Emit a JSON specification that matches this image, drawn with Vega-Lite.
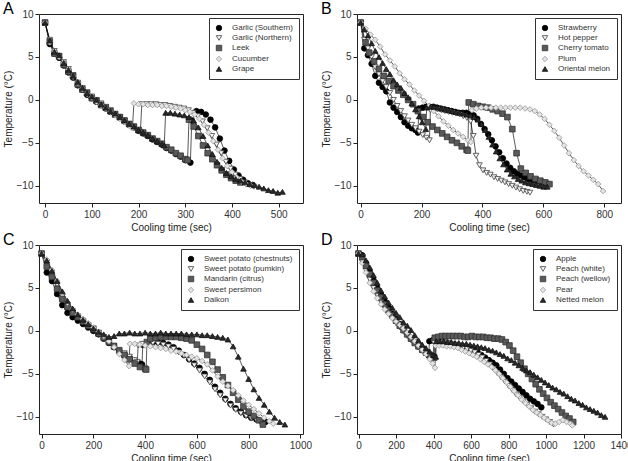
{
"$schema": "https://vega.github.io/schema/vega-lite/v6.json",
"padding": {"left": 2, "top": 0, "right": 0, "bottom": 0},
"config": {
  "font": "Liberation Sans",
  "view": {"stroke": "#222", "strokeWidth": 1},
  "axis": {"domain": false, "grid": false, "tickColor": "#222", "tickSize": 4, "labelFontSize": 10, "labelColor": "#333", "titleFontSize": 10, "titleFontWeight": "normal", "titleColor": "#222", "labelPadding": 2, "titlePadding": 3, "format": "d", "labelOverlap": false, "labelFlush": false},
  "legend": {"orient": "top-right", "offset": 4, "strokeColor": "#333", "fillColor": "white", "padding": 6, "labelFontSize": 8, "labelColor": "#333", "symbolSize": 30, "rowPadding": 1, "labelOffset": 9, "symbolStrokeWidth": 0.8},
  "title": {"fontSize": 16, "fontWeight": "normal", "anchor": "start", "frame": "bounds", "offset": -8, "color": "#000"}
},
"datasets": {
"A": [
{"s":"Garlic (Southern)","t":0,"v":9.0},{"s":"Garlic (Southern)","t":10,"v":6.5},{"s":"Garlic (Southern)","t":20,"v":5.4},{"s":"Garlic (Southern)","t":30,"v":4.9},{"s":"Garlic (Southern)","t":40,"v":4.0},{"s":"Garlic (Southern)","t":50,"v":3.2},{"s":"Garlic (Southern)","t":60,"v":2.6},{"s":"Garlic (Southern)","t":70,"v":1.7},{"s":"Garlic (Southern)","t":80,"v":1.2},{"s":"Garlic (Southern)","t":90,"v":0.6},{"s":"Garlic (Southern)","t":100,"v":0.2},{"s":"Garlic (Southern)","t":110,"v":-0.2},{"s":"Garlic (Southern)","t":120,"v":-0.6},{"s":"Garlic (Southern)","t":130,"v":-1.0},{"s":"Garlic (Southern)","t":140,"v":-1.4},{"s":"Garlic (Southern)","t":150,"v":-1.7},{"s":"Garlic (Southern)","t":160,"v":-2.1},{"s":"Garlic (Southern)","t":170,"v":-2.5},{"s":"Garlic (Southern)","t":180,"v":-2.9},{"s":"Garlic (Southern)","t":190,"v":-3.2},{"s":"Garlic (Southern)","t":200,"v":-3.6},{"s":"Garlic (Southern)","t":210,"v":-3.9},{"s":"Garlic (Southern)","t":220,"v":-4.2},{"s":"Garlic (Southern)","t":230,"v":-4.6},{"s":"Garlic (Southern)","t":240,"v":-4.9},{"s":"Garlic (Southern)","t":250,"v":-5.2},{"s":"Garlic (Southern)","t":260,"v":-5.6},{"s":"Garlic (Southern)","t":270,"v":-5.9},{"s":"Garlic (Southern)","t":280,"v":-6.3},{"s":"Garlic (Southern)","t":290,"v":-6.6},{"s":"Garlic (Southern)","t":300,"v":-7.0},{"s":"Garlic (Southern)","t":311,"v":-7.3},{"s":"Garlic (Southern)","t":314,"v":-2.4},{"s":"Garlic (Southern)","t":324,"v":-1.3},{"s":"Garlic (Southern)","t":334,"v":-1.4},{"s":"Garlic (Southern)","t":344,"v":-1.7},{"s":"Garlic (Southern)","t":354,"v":-2.3},{"s":"Garlic (Southern)","t":364,"v":-3.2},{"s":"Garlic (Southern)","t":374,"v":-4.5},{"s":"Garlic (Southern)","t":384,"v":-5.9},{"s":"Garlic (Southern)","t":394,"v":-7.1},{"s":"Garlic (Southern)","t":404,"v":-8.1},{"s":"Garlic (Southern)","t":414,"v":-8.8},{"s":"Garlic (Southern)","t":424,"v":-9.3},{"s":"Garlic (Southern)","t":434,"v":-9.7},{"s":"Garlic (Southern)","t":444,"v":-9.9},
{"s":"Garlic (Northern)","t":0,"v":9.0},{"s":"Garlic (Northern)","t":10,"v":7.0},{"s":"Garlic (Northern)","t":20,"v":5.7},{"s":"Garlic (Northern)","t":30,"v":5.1},{"s":"Garlic (Northern)","t":40,"v":4.4},{"s":"Garlic (Northern)","t":50,"v":3.6},{"s":"Garlic (Northern)","t":60,"v":2.9},{"s":"Garlic (Northern)","t":70,"v":2.0},{"s":"Garlic (Northern)","t":80,"v":1.4},{"s":"Garlic (Northern)","t":90,"v":0.9},{"s":"Garlic (Northern)","t":100,"v":0.4},{"s":"Garlic (Northern)","t":110,"v":0.0},{"s":"Garlic (Northern)","t":120,"v":-0.4},{"s":"Garlic (Northern)","t":130,"v":-0.8},{"s":"Garlic (Northern)","t":140,"v":-1.2},{"s":"Garlic (Northern)","t":150,"v":-1.6},{"s":"Garlic (Northern)","t":160,"v":-2.0},{"s":"Garlic (Northern)","t":170,"v":-2.4},{"s":"Garlic (Northern)","t":180,"v":-2.8},{"s":"Garlic (Northern)","t":190,"v":-3.2},{"s":"Garlic (Northern)","t":200,"v":-3.5},{"s":"Garlic (Northern)","t":204,"v":-3.7},{"s":"Garlic (Northern)","t":207,"v":-0.5},{"s":"Garlic (Northern)","t":217,"v":-0.5},{"s":"Garlic (Northern)","t":227,"v":-0.5},{"s":"Garlic (Northern)","t":237,"v":-0.5},{"s":"Garlic (Northern)","t":247,"v":-0.6},{"s":"Garlic (Northern)","t":257,"v":-0.6},{"s":"Garlic (Northern)","t":267,"v":-0.7},{"s":"Garlic (Northern)","t":277,"v":-0.8},{"s":"Garlic (Northern)","t":287,"v":-0.9},{"s":"Garlic (Northern)","t":297,"v":-1.0},{"s":"Garlic (Northern)","t":307,"v":-1.2},{"s":"Garlic (Northern)","t":317,"v":-1.5},{"s":"Garlic (Northern)","t":327,"v":-1.9},{"s":"Garlic (Northern)","t":337,"v":-2.5},{"s":"Garlic (Northern)","t":347,"v":-3.3},{"s":"Garlic (Northern)","t":357,"v":-4.2},{"s":"Garlic (Northern)","t":367,"v":-5.2},{"s":"Garlic (Northern)","t":377,"v":-6.2},{"s":"Garlic (Northern)","t":387,"v":-7.2},{"s":"Garlic (Northern)","t":397,"v":-8.0},{"s":"Garlic (Northern)","t":407,"v":-8.7},{"s":"Garlic (Northern)","t":417,"v":-9.2},{"s":"Garlic (Northern)","t":427,"v":-9.6},{"s":"Garlic (Northern)","t":437,"v":-9.9},{"s":"Garlic (Northern)","t":447,"v":-10.1},
{"s":"Leek","t":0,"v":9.0},{"s":"Leek","t":10,"v":6.8},{"s":"Leek","t":20,"v":5.4},{"s":"Leek","t":30,"v":5.1},{"s":"Leek","t":40,"v":4.1},{"s":"Leek","t":50,"v":3.3},{"s":"Leek","t":60,"v":2.8},{"s":"Leek","t":70,"v":1.8},{"s":"Leek","t":80,"v":1.2},{"s":"Leek","t":90,"v":0.8},{"s":"Leek","t":100,"v":0.2},{"s":"Leek","t":110,"v":-0.1},{"s":"Leek","t":120,"v":-0.6},{"s":"Leek","t":130,"v":-0.9},{"s":"Leek","t":140,"v":-1.3},{"s":"Leek","t":150,"v":-1.7},{"s":"Leek","t":160,"v":-2.0},{"s":"Leek","t":170,"v":-2.4},{"s":"Leek","t":180,"v":-2.8},{"s":"Leek","t":190,"v":-3.1},{"s":"Leek","t":200,"v":-3.5},{"s":"Leek","t":210,"v":-3.8},{"s":"Leek","t":220,"v":-4.1},{"s":"Leek","t":230,"v":-4.5},{"s":"Leek","t":240,"v":-4.8},{"s":"Leek","t":250,"v":-5.1},{"s":"Leek","t":260,"v":-5.5},{"s":"Leek","t":270,"v":-5.8},{"s":"Leek","t":280,"v":-6.2},{"s":"Leek","t":290,"v":-6.5},{"s":"Leek","t":300,"v":-6.9},{"s":"Leek","t":305,"v":-7.0},{"s":"Leek","t":308,"v":-2.3},{"s":"Leek","t":318,"v":-3.1},{"s":"Leek","t":328,"v":-4.2},{"s":"Leek","t":338,"v":-5.3},{"s":"Leek","t":348,"v":-6.2},{"s":"Leek","t":358,"v":-6.9},{"s":"Leek","t":368,"v":-7.6},{"s":"Leek","t":378,"v":-8.2},{"s":"Leek","t":388,"v":-8.7},{"s":"Leek","t":398,"v":-9.1},{"s":"Leek","t":408,"v":-9.4},{"s":"Leek","t":418,"v":-9.6},
{"s":"Cucumber","t":0,"v":9.0},{"s":"Cucumber","t":10,"v":6.7},{"s":"Cucumber","t":20,"v":5.6},{"s":"Cucumber","t":30,"v":5.0},{"s":"Cucumber","t":40,"v":4.3},{"s":"Cucumber","t":50,"v":3.5},{"s":"Cucumber","t":60,"v":2.7},{"s":"Cucumber","t":70,"v":2.0},{"s":"Cucumber","t":80,"v":1.3},{"s":"Cucumber","t":90,"v":0.7},{"s":"Cucumber","t":100,"v":0.3},{"s":"Cucumber","t":110,"v":-0.2},{"s":"Cucumber","t":120,"v":-0.6},{"s":"Cucumber","t":130,"v":-1.0},{"s":"Cucumber","t":140,"v":-1.4},{"s":"Cucumber","t":150,"v":-1.8},{"s":"Cucumber","t":160,"v":-2.2},{"s":"Cucumber","t":170,"v":-2.6},{"s":"Cucumber","t":180,"v":-3.0},{"s":"Cucumber","t":187,"v":-3.3},{"s":"Cucumber","t":190,"v":-0.4},{"s":"Cucumber","t":200,"v":-0.5},{"s":"Cucumber","t":210,"v":-0.5},{"s":"Cucumber","t":220,"v":-0.6},{"s":"Cucumber","t":230,"v":-0.6},{"s":"Cucumber","t":240,"v":-0.6},{"s":"Cucumber","t":250,"v":-0.7},{"s":"Cucumber","t":260,"v":-0.7},{"s":"Cucumber","t":270,"v":-0.8},{"s":"Cucumber","t":280,"v":-0.9},{"s":"Cucumber","t":290,"v":-1.0},{"s":"Cucumber","t":300,"v":-1.2},{"s":"Cucumber","t":310,"v":-1.4},{"s":"Cucumber","t":320,"v":-1.7},{"s":"Cucumber","t":330,"v":-2.2},{"s":"Cucumber","t":340,"v":-2.9},{"s":"Cucumber","t":350,"v":-3.8},{"s":"Cucumber","t":360,"v":-4.8},{"s":"Cucumber","t":370,"v":-5.8},{"s":"Cucumber","t":380,"v":-6.8},{"s":"Cucumber","t":390,"v":-7.7},{"s":"Cucumber","t":400,"v":-8.4},{"s":"Cucumber","t":410,"v":-9.0},{"s":"Cucumber","t":420,"v":-9.5},{"s":"Cucumber","t":430,"v":-9.8},{"s":"Cucumber","t":440,"v":-10.0},
{"s":"Grape","t":0,"v":9.0},{"s":"Grape","t":10,"v":6.9},{"s":"Grape","t":20,"v":5.6},{"s":"Grape","t":30,"v":5.2},{"s":"Grape","t":40,"v":4.3},{"s":"Grape","t":50,"v":3.5},{"s":"Grape","t":60,"v":2.8},{"s":"Grape","t":70,"v":2.1},{"s":"Grape","t":80,"v":1.4},{"s":"Grape","t":90,"v":0.8},{"s":"Grape","t":100,"v":0.4},{"s":"Grape","t":110,"v":0.0},{"s":"Grape","t":120,"v":-0.5},{"s":"Grape","t":130,"v":-0.9},{"s":"Grape","t":140,"v":-1.3},{"s":"Grape","t":150,"v":-1.6},{"s":"Grape","t":160,"v":-2.0},{"s":"Grape","t":170,"v":-2.4},{"s":"Grape","t":180,"v":-2.8},{"s":"Grape","t":190,"v":-3.1},{"s":"Grape","t":200,"v":-3.5},{"s":"Grape","t":210,"v":-3.8},{"s":"Grape","t":220,"v":-4.1},{"s":"Grape","t":230,"v":-4.5},{"s":"Grape","t":240,"v":-4.8},{"s":"Grape","t":250,"v":-5.1},{"s":"Grape","t":255,"v":-5.3},{"s":"Grape","t":258,"v":-1.5},{"s":"Grape","t":268,"v":-1.5},{"s":"Grape","t":278,"v":-1.6},{"s":"Grape","t":288,"v":-1.7},{"s":"Grape","t":298,"v":-1.8},{"s":"Grape","t":308,"v":-2.0},{"s":"Grape","t":318,"v":-2.4},{"s":"Grape","t":328,"v":-3.2},{"s":"Grape","t":338,"v":-4.2},{"s":"Grape","t":348,"v":-5.3},{"s":"Grape","t":358,"v":-6.3},{"s":"Grape","t":368,"v":-7.2},{"s":"Grape","t":378,"v":-7.9},{"s":"Grape","t":388,"v":-8.5},{"s":"Grape","t":398,"v":-8.9},{"s":"Grape","t":408,"v":-9.2},{"s":"Grape","t":418,"v":-9.4},{"s":"Grape","t":428,"v":-9.6},{"s":"Grape","t":438,"v":-9.8},{"s":"Grape","t":448,"v":-9.9},{"s":"Grape","t":458,"v":-10.1},{"s":"Grape","t":468,"v":-10.3},{"s":"Grape","t":478,"v":-10.5},{"s":"Grape","t":488,"v":-10.6},{"s":"Grape","t":498,"v":-10.8},{"s":"Grape","t":508,"v":-10.7}
],
"B": [
{"s":"Strawberry","t":0,"v":9.0},{"s":"Strawberry","t":12,"v":6.0},{"s":"Strawberry","t":24,"v":5.2},{"s":"Strawberry","t":36,"v":4.2},{"s":"Strawberry","t":48,"v":2.8},{"s":"Strawberry","t":60,"v":2.0},{"s":"Strawberry","t":72,"v":1.5},{"s":"Strawberry","t":84,"v":1.0},{"s":"Strawberry","t":96,"v":-0.3},{"s":"Strawberry","t":108,"v":-0.9},{"s":"Strawberry","t":120,"v":-1.4},{"s":"Strawberry","t":132,"v":-2.0},{"s":"Strawberry","t":144,"v":-2.6},{"s":"Strawberry","t":156,"v":-3.0},{"s":"Strawberry","t":168,"v":-3.3},{"s":"Strawberry","t":180,"v":-3.5},{"s":"Strawberry","t":188,"v":-3.8},{"s":"Strawberry","t":191,"v":-1.0},{"s":"Strawberry","t":203,"v":-0.9},{"s":"Strawberry","t":215,"v":-0.8},{"s":"Strawberry","t":227,"v":-0.8},{"s":"Strawberry","t":239,"v":-0.8},{"s":"Strawberry","t":251,"v":-0.9},{"s":"Strawberry","t":263,"v":-1.0},{"s":"Strawberry","t":275,"v":-1.1},{"s":"Strawberry","t":287,"v":-1.2},{"s":"Strawberry","t":299,"v":-1.3},{"s":"Strawberry","t":311,"v":-1.4},{"s":"Strawberry","t":323,"v":-1.5},{"s":"Strawberry","t":335,"v":-1.5},{"s":"Strawberry","t":347,"v":-1.5},{"s":"Strawberry","t":359,"v":-1.6},{"s":"Strawberry","t":371,"v":-1.8},{"s":"Strawberry","t":383,"v":-2.2},{"s":"Strawberry","t":395,"v":-2.8},{"s":"Strawberry","t":407,"v":-3.4},{"s":"Strawberry","t":419,"v":-4.0},{"s":"Strawberry","t":431,"v":-4.7},{"s":"Strawberry","t":443,"v":-5.4},{"s":"Strawberry","t":455,"v":-6.1},{"s":"Strawberry","t":467,"v":-6.8},{"s":"Strawberry","t":479,"v":-7.4},{"s":"Strawberry","t":491,"v":-7.9},{"s":"Strawberry","t":503,"v":-8.3},{"s":"Strawberry","t":515,"v":-8.6},{"s":"Strawberry","t":527,"v":-8.8},{"s":"Strawberry","t":539,"v":-9.0},{"s":"Strawberry","t":551,"v":-9.2},{"s":"Strawberry","t":563,"v":-9.3},{"s":"Strawberry","t":575,"v":-9.4},{"s":"Strawberry","t":587,"v":-9.5},{"s":"Strawberry","t":599,"v":-9.6},{"s":"Strawberry","t":611,"v":-9.7},
{"s":"Hot pepper","t":0,"v":9.0},{"s":"Hot pepper","t":12,"v":7.0},{"s":"Hot pepper","t":24,"v":6.0},{"s":"Hot pepper","t":36,"v":5.0},{"s":"Hot pepper","t":48,"v":3.8},{"s":"Hot pepper","t":60,"v":3.0},{"s":"Hot pepper","t":72,"v":2.2},{"s":"Hot pepper","t":84,"v":1.5},{"s":"Hot pepper","t":96,"v":0.8},{"s":"Hot pepper","t":108,"v":0.0},{"s":"Hot pepper","t":120,"v":-0.7},{"s":"Hot pepper","t":132,"v":-1.3},{"s":"Hot pepper","t":144,"v":-1.9},{"s":"Hot pepper","t":156,"v":-2.4},{"s":"Hot pepper","t":168,"v":-2.9},{"s":"Hot pepper","t":180,"v":-3.3},{"s":"Hot pepper","t":192,"v":-3.7},{"s":"Hot pepper","t":204,"v":-4.1},{"s":"Hot pepper","t":216,"v":-4.4},{"s":"Hot pepper","t":226,"v":-4.7},{"s":"Hot pepper","t":229,"v":-1.2},{"s":"Hot pepper","t":241,"v":-1.1},{"s":"Hot pepper","t":253,"v":-1.1},{"s":"Hot pepper","t":265,"v":-1.2},{"s":"Hot pepper","t":277,"v":-1.3},{"s":"Hot pepper","t":289,"v":-1.4},{"s":"Hot pepper","t":301,"v":-1.5},{"s":"Hot pepper","t":313,"v":-1.6},{"s":"Hot pepper","t":325,"v":-1.7},{"s":"Hot pepper","t":337,"v":-1.9},{"s":"Hot pepper","t":349,"v":-2.1},{"s":"Hot pepper","t":361,"v":-2.5},{"s":"Hot pepper","t":370,"v":-4.2},{"s":"Hot pepper","t":379,"v":-6.5},{"s":"Hot pepper","t":390,"v":-7.6},{"s":"Hot pepper","t":402,"v":-8.2},{"s":"Hot pepper","t":414,"v":-8.5},{"s":"Hot pepper","t":426,"v":-8.7},{"s":"Hot pepper","t":438,"v":-9.0},{"s":"Hot pepper","t":450,"v":-9.2},{"s":"Hot pepper","t":462,"v":-9.4},{"s":"Hot pepper","t":474,"v":-9.6},{"s":"Hot pepper","t":486,"v":-9.8},{"s":"Hot pepper","t":498,"v":-10.0},{"s":"Hot pepper","t":510,"v":-10.2},{"s":"Hot pepper","t":522,"v":-10.4},{"s":"Hot pepper","t":534,"v":-10.6},{"s":"Hot pepper","t":546,"v":-10.7},{"s":"Hot pepper","t":556,"v":-10.8},
{"s":"Cherry tomato","t":0,"v":9.0},{"s":"Cherry tomato","t":16,"v":6.7},{"s":"Cherry tomato","t":28,"v":5.5},{"s":"Cherry tomato","t":44,"v":4.5},{"s":"Cherry tomato","t":60,"v":3.6},{"s":"Cherry tomato","t":76,"v":2.8},{"s":"Cherry tomato","t":92,"v":2.2},{"s":"Cherry tomato","t":108,"v":1.6},{"s":"Cherry tomato","t":124,"v":1.1},{"s":"Cherry tomato","t":140,"v":0.6},{"s":"Cherry tomato","t":156,"v":0.0},{"s":"Cherry tomato","t":172,"v":-0.5},{"s":"Cherry tomato","t":188,"v":-1.3},{"s":"Cherry tomato","t":204,"v":-2.0},{"s":"Cherry tomato","t":220,"v":-2.6},{"s":"Cherry tomato","t":236,"v":-3.1},{"s":"Cherry tomato","t":252,"v":-3.5},{"s":"Cherry tomato","t":268,"v":-3.9},{"s":"Cherry tomato","t":284,"v":-4.3},{"s":"Cherry tomato","t":300,"v":-4.7},{"s":"Cherry tomato","t":316,"v":-5.0},{"s":"Cherry tomato","t":332,"v":-5.4},{"s":"Cherry tomato","t":348,"v":-5.8},{"s":"Cherry tomato","t":352,"v":-5.9},{"s":"Cherry tomato","t":355,"v":-0.3},{"s":"Cherry tomato","t":370,"v":-0.5},{"s":"Cherry tomato","t":386,"v":-0.7},{"s":"Cherry tomato","t":402,"v":-0.8},{"s":"Cherry tomato","t":418,"v":-0.9},{"s":"Cherry tomato","t":434,"v":-1.1},{"s":"Cherry tomato","t":450,"v":-1.3},{"s":"Cherry tomato","t":466,"v":-1.6},{"s":"Cherry tomato","t":482,"v":-2.0},{"s":"Cherry tomato","t":498,"v":-3.4},{"s":"Cherry tomato","t":512,"v":-6.2},{"s":"Cherry tomato","t":526,"v":-8.0},{"s":"Cherry tomato","t":542,"v":-8.5},{"s":"Cherry tomato","t":558,"v":-8.9},{"s":"Cherry tomato","t":574,"v":-9.2},{"s":"Cherry tomato","t":590,"v":-9.4},{"s":"Cherry tomato","t":606,"v":-9.6},{"s":"Cherry tomato","t":620,"v":-9.8},
{"s":"Plum","t":0,"v":9.0},{"s":"Plum","t":16,"v":8.3},{"s":"Plum","t":32,"v":7.6},{"s":"Plum","t":48,"v":7.0},{"s":"Plum","t":64,"v":6.2},{"s":"Plum","t":80,"v":5.3},{"s":"Plum","t":96,"v":4.6},{"s":"Plum","t":112,"v":3.9},{"s":"Plum","t":128,"v":3.1},{"s":"Plum","t":144,"v":2.4},{"s":"Plum","t":160,"v":1.8},{"s":"Plum","t":176,"v":1.1},{"s":"Plum","t":192,"v":0.5},{"s":"Plum","t":208,"v":-0.1},{"s":"Plum","t":224,"v":-0.7},{"s":"Plum","t":240,"v":-1.3},{"s":"Plum","t":256,"v":-1.9},{"s":"Plum","t":272,"v":-2.5},{"s":"Plum","t":288,"v":-3.0},{"s":"Plum","t":304,"v":-3.5},{"s":"Plum","t":320,"v":-3.9},{"s":"Plum","t":336,"v":-4.3},{"s":"Plum","t":352,"v":-4.7},{"s":"Plum","t":362,"v":-4.9},{"s":"Plum","t":365,"v":-1.2},{"s":"Plum","t":380,"v":-1.0},{"s":"Plum","t":396,"v":-0.9},{"s":"Plum","t":412,"v":-0.9},{"s":"Plum","t":428,"v":-0.9},{"s":"Plum","t":444,"v":-0.9},{"s":"Plum","t":460,"v":-0.9},{"s":"Plum","t":476,"v":-0.9},{"s":"Plum","t":492,"v":-0.9},{"s":"Plum","t":508,"v":-0.9},{"s":"Plum","t":524,"v":-0.9},{"s":"Plum","t":540,"v":-1.0},{"s":"Plum","t":556,"v":-1.1},{"s":"Plum","t":572,"v":-1.3},{"s":"Plum","t":588,"v":-1.7},{"s":"Plum","t":604,"v":-2.2},{"s":"Plum","t":620,"v":-2.9},{"s":"Plum","t":636,"v":-3.6},{"s":"Plum","t":652,"v":-4.4},{"s":"Plum","t":668,"v":-5.3},{"s":"Plum","t":684,"v":-6.2},{"s":"Plum","t":700,"v":-7.0},{"s":"Plum","t":716,"v":-7.7},{"s":"Plum","t":732,"v":-8.3},{"s":"Plum","t":748,"v":-8.8},{"s":"Plum","t":764,"v":-9.3},{"s":"Plum","t":780,"v":-9.8},{"s":"Plum","t":796,"v":-10.6},
{"s":"Oriental melon","t":0,"v":9.0},{"s":"Oriental melon","t":12,"v":8.2},{"s":"Oriental melon","t":24,"v":7.5},{"s":"Oriental melon","t":36,"v":6.6},{"s":"Oriental melon","t":48,"v":5.7},{"s":"Oriental melon","t":60,"v":5.0},{"s":"Oriental melon","t":72,"v":4.3},{"s":"Oriental melon","t":84,"v":3.6},{"s":"Oriental melon","t":96,"v":3.0},{"s":"Oriental melon","t":108,"v":2.3},{"s":"Oriental melon","t":120,"v":1.8},{"s":"Oriental melon","t":132,"v":1.4},{"s":"Oriental melon","t":144,"v":0.8},{"s":"Oriental melon","t":156,"v":0.3},{"s":"Oriental melon","t":168,"v":-0.4},{"s":"Oriental melon","t":180,"v":-1.1},{"s":"Oriental melon","t":192,"v":-1.9},{"s":"Oriental melon","t":202,"v":-2.6},{"s":"Oriental melon","t":214,"v":-3.4},{"s":"Oriental melon","t":217,"v":-0.9},{"s":"Oriental melon","t":229,"v":-0.8},{"s":"Oriental melon","t":241,"v":-0.8},{"s":"Oriental melon","t":253,"v":-0.9},{"s":"Oriental melon","t":265,"v":-1.0},{"s":"Oriental melon","t":277,"v":-1.1},{"s":"Oriental melon","t":289,"v":-1.2},{"s":"Oriental melon","t":301,"v":-1.3},{"s":"Oriental melon","t":313,"v":-1.4},{"s":"Oriental melon","t":325,"v":-1.5},{"s":"Oriental melon","t":337,"v":-1.6},{"s":"Oriental melon","t":349,"v":-1.7},{"s":"Oriental melon","t":361,"v":-1.8},{"s":"Oriental melon","t":373,"v":-2.0},{"s":"Oriental melon","t":385,"v":-2.3},{"s":"Oriental melon","t":397,"v":-2.8},{"s":"Oriental melon","t":409,"v":-3.5},{"s":"Oriental melon","t":421,"v":-4.3},{"s":"Oriental melon","t":433,"v":-5.2},{"s":"Oriental melon","t":445,"v":-6.0},{"s":"Oriental melon","t":457,"v":-6.8},{"s":"Oriental melon","t":469,"v":-7.5},{"s":"Oriental melon","t":481,"v":-8.1},{"s":"Oriental melon","t":493,"v":-8.6},{"s":"Oriental melon","t":505,"v":-8.9},{"s":"Oriental melon","t":517,"v":-9.2},{"s":"Oriental melon","t":529,"v":-9.4},{"s":"Oriental melon","t":541,"v":-9.6},{"s":"Oriental melon","t":553,"v":-9.7},{"s":"Oriental melon","t":565,"v":-9.8},{"s":"Oriental melon","t":577,"v":-9.9},{"s":"Oriental melon","t":589,"v":-10.0},{"s":"Oriental melon","t":601,"v":-10.1},{"s":"Oriental melon","t":613,"v":-10.1}
],
"C": [
{"s":"Sweet potato (chestnuts)","t":0,"v":9.0},{"s":"Sweet potato (chestnuts)","t":20,"v":6.8},{"s":"Sweet potato (chestnuts)","t":40,"v":5.8},{"s":"Sweet potato (chestnuts)","t":60,"v":4.3},{"s":"Sweet potato (chestnuts)","t":80,"v":3.0},{"s":"Sweet potato (chestnuts)","t":100,"v":2.1},{"s":"Sweet potato (chestnuts)","t":120,"v":1.6},{"s":"Sweet potato (chestnuts)","t":140,"v":1.2},{"s":"Sweet potato (chestnuts)","t":160,"v":0.8},{"s":"Sweet potato (chestnuts)","t":180,"v":0.4},{"s":"Sweet potato (chestnuts)","t":200,"v":0.0},{"s":"Sweet potato (chestnuts)","t":220,"v":-0.4},{"s":"Sweet potato (chestnuts)","t":240,"v":-0.9},{"s":"Sweet potato (chestnuts)","t":260,"v":-1.4},{"s":"Sweet potato (chestnuts)","t":280,"v":-1.9},{"s":"Sweet potato (chestnuts)","t":300,"v":-2.3},{"s":"Sweet potato (chestnuts)","t":320,"v":-2.7},{"s":"Sweet potato (chestnuts)","t":340,"v":-3.1},{"s":"Sweet potato (chestnuts)","t":360,"v":-3.5},{"s":"Sweet potato (chestnuts)","t":380,"v":-3.8},{"s":"Sweet potato (chestnuts)","t":388,"v":-3.9},{"s":"Sweet potato (chestnuts)","t":391,"v":-1.6},{"s":"Sweet potato (chestnuts)","t":410,"v":-1.4},{"s":"Sweet potato (chestnuts)","t":430,"v":-1.3},{"s":"Sweet potato (chestnuts)","t":450,"v":-1.3},{"s":"Sweet potato (chestnuts)","t":470,"v":-1.4},{"s":"Sweet potato (chestnuts)","t":490,"v":-1.6},{"s":"Sweet potato (chestnuts)","t":510,"v":-1.9},{"s":"Sweet potato (chestnuts)","t":530,"v":-2.3},{"s":"Sweet potato (chestnuts)","t":550,"v":-2.8},{"s":"Sweet potato (chestnuts)","t":570,"v":-3.3},{"s":"Sweet potato (chestnuts)","t":590,"v":-3.8},{"s":"Sweet potato (chestnuts)","t":610,"v":-4.3},{"s":"Sweet potato (chestnuts)","t":630,"v":-5.0},{"s":"Sweet potato (chestnuts)","t":650,"v":-5.7},{"s":"Sweet potato (chestnuts)","t":670,"v":-6.5},{"s":"Sweet potato (chestnuts)","t":690,"v":-7.2},{"s":"Sweet potato (chestnuts)","t":710,"v":-7.9},{"s":"Sweet potato (chestnuts)","t":730,"v":-8.5},{"s":"Sweet potato (chestnuts)","t":750,"v":-9.0},{"s":"Sweet potato (chestnuts)","t":770,"v":-9.4},{"s":"Sweet potato (chestnuts)","t":790,"v":-9.8},{"s":"Sweet potato (chestnuts)","t":810,"v":-10.1},{"s":"Sweet potato (chestnuts)","t":830,"v":-10.3},{"s":"Sweet potato (chestnuts)","t":850,"v":-10.5},{"s":"Sweet potato (chestnuts)","t":865,"v":-10.6},
{"s":"Sweet potato (pumkin)","t":0,"v":9.0},{"s":"Sweet potato (pumkin)","t":20,"v":8.0},{"s":"Sweet potato (pumkin)","t":40,"v":6.8},{"s":"Sweet potato (pumkin)","t":60,"v":5.4},{"s":"Sweet potato (pumkin)","t":80,"v":4.0},{"s":"Sweet potato (pumkin)","t":100,"v":3.0},{"s":"Sweet potato (pumkin)","t":120,"v":2.3},{"s":"Sweet potato (pumkin)","t":140,"v":1.7},{"s":"Sweet potato (pumkin)","t":160,"v":1.2},{"s":"Sweet potato (pumkin)","t":180,"v":0.7},{"s":"Sweet potato (pumkin)","t":200,"v":0.3},{"s":"Sweet potato (pumkin)","t":220,"v":-0.2},{"s":"Sweet potato (pumkin)","t":240,"v":-0.7},{"s":"Sweet potato (pumkin)","t":260,"v":-1.2},{"s":"Sweet potato (pumkin)","t":280,"v":-1.7},{"s":"Sweet potato (pumkin)","t":300,"v":-2.2},{"s":"Sweet potato (pumkin)","t":320,"v":-2.6},{"s":"Sweet potato (pumkin)","t":340,"v":-3.0},{"s":"Sweet potato (pumkin)","t":360,"v":-3.4},{"s":"Sweet potato (pumkin)","t":370,"v":-3.6},{"s":"Sweet potato (pumkin)","t":373,"v":-1.7},{"s":"Sweet potato (pumkin)","t":390,"v":-1.5},{"s":"Sweet potato (pumkin)","t":410,"v":-1.4},{"s":"Sweet potato (pumkin)","t":430,"v":-1.4},{"s":"Sweet potato (pumkin)","t":450,"v":-1.5},{"s":"Sweet potato (pumkin)","t":470,"v":-1.6},{"s":"Sweet potato (pumkin)","t":490,"v":-1.8},{"s":"Sweet potato (pumkin)","t":510,"v":-2.1},{"s":"Sweet potato (pumkin)","t":530,"v":-2.5},{"s":"Sweet potato (pumkin)","t":550,"v":-2.9},{"s":"Sweet potato (pumkin)","t":570,"v":-3.4},{"s":"Sweet potato (pumkin)","t":590,"v":-4.0},{"s":"Sweet potato (pumkin)","t":610,"v":-4.6},{"s":"Sweet potato (pumkin)","t":630,"v":-5.3},{"s":"Sweet potato (pumkin)","t":650,"v":-6.0},{"s":"Sweet potato (pumkin)","t":670,"v":-6.8},{"s":"Sweet potato (pumkin)","t":690,"v":-7.5},{"s":"Sweet potato (pumkin)","t":710,"v":-8.1},{"s":"Sweet potato (pumkin)","t":730,"v":-8.7},{"s":"Sweet potato (pumkin)","t":750,"v":-9.2},{"s":"Sweet potato (pumkin)","t":770,"v":-9.6},{"s":"Sweet potato (pumkin)","t":790,"v":-9.9},{"s":"Sweet potato (pumkin)","t":810,"v":-10.2},{"s":"Sweet potato (pumkin)","t":830,"v":-10.4},{"s":"Sweet potato (pumkin)","t":845,"v":-10.6},
{"s":"Mandarin (citrus)","t":0,"v":9.0},{"s":"Mandarin (citrus)","t":20,"v":7.5},{"s":"Mandarin (citrus)","t":40,"v":6.3},{"s":"Mandarin (citrus)","t":60,"v":4.9},{"s":"Mandarin (citrus)","t":80,"v":3.7},{"s":"Mandarin (citrus)","t":100,"v":2.8},{"s":"Mandarin (citrus)","t":120,"v":2.1},{"s":"Mandarin (citrus)","t":140,"v":1.6},{"s":"Mandarin (citrus)","t":160,"v":1.1},{"s":"Mandarin (citrus)","t":180,"v":0.6},{"s":"Mandarin (citrus)","t":200,"v":0.2},{"s":"Mandarin (citrus)","t":220,"v":-0.3},{"s":"Mandarin (citrus)","t":240,"v":-0.8},{"s":"Mandarin (citrus)","t":260,"v":-1.3},{"s":"Mandarin (citrus)","t":280,"v":-1.8},{"s":"Mandarin (citrus)","t":300,"v":-2.3},{"s":"Mandarin (citrus)","t":320,"v":-2.8},{"s":"Mandarin (citrus)","t":340,"v":-3.3},{"s":"Mandarin (citrus)","t":360,"v":-3.8},{"s":"Mandarin (citrus)","t":380,"v":-4.2},{"s":"Mandarin (citrus)","t":400,"v":-4.4},{"s":"Mandarin (citrus)","t":404,"v":-4.5},{"s":"Mandarin (citrus)","t":407,"v":-1.3},{"s":"Mandarin (citrus)","t":420,"v":-0.9},{"s":"Mandarin (citrus)","t":440,"v":-0.8},{"s":"Mandarin (citrus)","t":460,"v":-0.7},{"s":"Mandarin (citrus)","t":480,"v":-0.7},{"s":"Mandarin (citrus)","t":500,"v":-0.7},{"s":"Mandarin (citrus)","t":520,"v":-0.7},{"s":"Mandarin (citrus)","t":540,"v":-0.8},{"s":"Mandarin (citrus)","t":560,"v":-0.9},{"s":"Mandarin (citrus)","t":580,"v":-1.1},{"s":"Mandarin (citrus)","t":600,"v":-1.6},{"s":"Mandarin (citrus)","t":620,"v":-2.1},{"s":"Mandarin (citrus)","t":640,"v":-2.8},{"s":"Mandarin (citrus)","t":660,"v":-3.6},{"s":"Mandarin (citrus)","t":680,"v":-4.5},{"s":"Mandarin (citrus)","t":700,"v":-5.4},{"s":"Mandarin (citrus)","t":720,"v":-6.3},{"s":"Mandarin (citrus)","t":740,"v":-7.2},{"s":"Mandarin (citrus)","t":760,"v":-8.0},{"s":"Mandarin (citrus)","t":780,"v":-8.8},{"s":"Mandarin (citrus)","t":800,"v":-9.4},{"s":"Mandarin (citrus)","t":820,"v":-9.9},{"s":"Mandarin (citrus)","t":840,"v":-10.4},{"s":"Mandarin (citrus)","t":855,"v":-10.9},
{"s":"Sweet persimon","t":0,"v":9.0},{"s":"Sweet persimon","t":20,"v":8.3},{"s":"Sweet persimon","t":40,"v":7.1},{"s":"Sweet persimon","t":60,"v":5.8},{"s":"Sweet persimon","t":80,"v":4.4},{"s":"Sweet persimon","t":100,"v":3.3},{"s":"Sweet persimon","t":120,"v":2.5},{"s":"Sweet persimon","t":140,"v":1.9},{"s":"Sweet persimon","t":160,"v":1.4},{"s":"Sweet persimon","t":180,"v":0.9},{"s":"Sweet persimon","t":200,"v":0.4},{"s":"Sweet persimon","t":220,"v":-0.1},{"s":"Sweet persimon","t":240,"v":-0.6},{"s":"Sweet persimon","t":260,"v":-1.2},{"s":"Sweet persimon","t":280,"v":-1.9},{"s":"Sweet persimon","t":300,"v":-2.7},{"s":"Sweet persimon","t":320,"v":-3.4},{"s":"Sweet persimon","t":338,"v":-4.1},{"s":"Sweet persimon","t":341,"v":-1.5},{"s":"Sweet persimon","t":360,"v":-1.5},{"s":"Sweet persimon","t":380,"v":-1.6},{"s":"Sweet persimon","t":400,"v":-1.7},{"s":"Sweet persimon","t":420,"v":-1.8},{"s":"Sweet persimon","t":440,"v":-1.9},{"s":"Sweet persimon","t":460,"v":-2.0},{"s":"Sweet persimon","t":480,"v":-2.1},{"s":"Sweet persimon","t":500,"v":-2.3},{"s":"Sweet persimon","t":520,"v":-2.4},{"s":"Sweet persimon","t":540,"v":-2.6},{"s":"Sweet persimon","t":560,"v":-2.8},{"s":"Sweet persimon","t":580,"v":-3.0},{"s":"Sweet persimon","t":600,"v":-3.2},{"s":"Sweet persimon","t":620,"v":-3.5},{"s":"Sweet persimon","t":640,"v":-3.9},{"s":"Sweet persimon","t":660,"v":-4.6},{"s":"Sweet persimon","t":680,"v":-5.3},{"s":"Sweet persimon","t":700,"v":-5.9},{"s":"Sweet persimon","t":720,"v":-6.4},{"s":"Sweet persimon","t":740,"v":-6.9},{"s":"Sweet persimon","t":760,"v":-7.5},{"s":"Sweet persimon","t":780,"v":-8.1},{"s":"Sweet persimon","t":800,"v":-8.6},{"s":"Sweet persimon","t":820,"v":-9.1},{"s":"Sweet persimon","t":840,"v":-9.6},{"s":"Sweet persimon","t":860,"v":-10.1},{"s":"Sweet persimon","t":880,"v":-10.5},{"s":"Sweet persimon","t":895,"v":-10.8},
{"s":"Daikon","t":0,"v":9.0},{"s":"Daikon","t":20,"v":8.2},{"s":"Daikon","t":40,"v":7.0},{"s":"Daikon","t":60,"v":5.8},{"s":"Daikon","t":80,"v":4.6},{"s":"Daikon","t":100,"v":3.5},{"s":"Daikon","t":120,"v":2.6},{"s":"Daikon","t":140,"v":1.9},{"s":"Daikon","t":160,"v":1.3},{"s":"Daikon","t":180,"v":0.8},{"s":"Daikon","t":200,"v":0.3},{"s":"Daikon","t":220,"v":-0.1},{"s":"Daikon","t":240,"v":-0.4},{"s":"Daikon","t":260,"v":-0.7},{"s":"Daikon","t":280,"v":-0.6},{"s":"Daikon","t":300,"v":-0.3},{"s":"Daikon","t":320,"v":-0.3},{"s":"Daikon","t":340,"v":-0.2},{"s":"Daikon","t":360,"v":-0.3},{"s":"Daikon","t":380,"v":-0.3},{"s":"Daikon","t":400,"v":-0.2},{"s":"Daikon","t":420,"v":-0.3},{"s":"Daikon","t":440,"v":-0.3},{"s":"Daikon","t":460,"v":-0.2},{"s":"Daikon","t":480,"v":-0.3},{"s":"Daikon","t":500,"v":-0.3},{"s":"Daikon","t":520,"v":-0.3},{"s":"Daikon","t":540,"v":-0.3},{"s":"Daikon","t":560,"v":-0.4},{"s":"Daikon","t":580,"v":-0.4},{"s":"Daikon","t":600,"v":-0.4},{"s":"Daikon","t":620,"v":-0.5},{"s":"Daikon","t":640,"v":-0.5},{"s":"Daikon","t":660,"v":-0.6},{"s":"Daikon","t":680,"v":-0.7},{"s":"Daikon","t":700,"v":-0.8},{"s":"Daikon","t":720,"v":-1.0},{"s":"Daikon","t":740,"v":-1.8},{"s":"Daikon","t":760,"v":-3.0},{"s":"Daikon","t":780,"v":-4.4},{"s":"Daikon","t":800,"v":-5.6},{"s":"Daikon","t":820,"v":-6.8},{"s":"Daikon","t":840,"v":-7.8},{"s":"Daikon","t":860,"v":-8.6},{"s":"Daikon","t":880,"v":-9.4},{"s":"Daikon","t":900,"v":-10.1},{"s":"Daikon","t":920,"v":-10.6},{"s":"Daikon","t":940,"v":-10.9}
],
"D": [
{"s":"Apple","t":0,"v":9.0},{"s":"Apple","t":20,"v":8.8},{"s":"Apple","t":40,"v":7.9},{"s":"Apple","t":60,"v":6.9},{"s":"Apple","t":80,"v":5.9},{"s":"Apple","t":100,"v":5.0},{"s":"Apple","t":120,"v":4.2},{"s":"Apple","t":140,"v":3.4},{"s":"Apple","t":160,"v":2.7},{"s":"Apple","t":180,"v":2.0},{"s":"Apple","t":200,"v":1.4},{"s":"Apple","t":220,"v":0.8},{"s":"Apple","t":240,"v":0.3},{"s":"Apple","t":260,"v":-0.3},{"s":"Apple","t":280,"v":-0.8},{"s":"Apple","t":300,"v":-1.3},{"s":"Apple","t":320,"v":-1.8},{"s":"Apple","t":340,"v":-2.2},{"s":"Apple","t":360,"v":-2.6},{"s":"Apple","t":375,"v":-2.9},{"s":"Apple","t":378,"v":-1.2},{"s":"Apple","t":395,"v":-1.1},{"s":"Apple","t":415,"v":-1.2},{"s":"Apple","t":435,"v":-1.3},{"s":"Apple","t":455,"v":-1.4},{"s":"Apple","t":475,"v":-1.5},{"s":"Apple","t":495,"v":-1.6},{"s":"Apple","t":515,"v":-1.7},{"s":"Apple","t":535,"v":-1.8},{"s":"Apple","t":555,"v":-1.9},{"s":"Apple","t":575,"v":-2.0},{"s":"Apple","t":595,"v":-2.2},{"s":"Apple","t":615,"v":-2.3},{"s":"Apple","t":635,"v":-2.5},{"s":"Apple","t":655,"v":-2.8},{"s":"Apple","t":675,"v":-3.1},{"s":"Apple","t":695,"v":-3.4},{"s":"Apple","t":715,"v":-3.7},{"s":"Apple","t":735,"v":-4.0},{"s":"Apple","t":755,"v":-4.5},{"s":"Apple","t":775,"v":-5.0},{"s":"Apple","t":795,"v":-5.5},{"s":"Apple","t":815,"v":-5.9},{"s":"Apple","t":835,"v":-6.3},{"s":"Apple","t":855,"v":-6.7},{"s":"Apple","t":875,"v":-7.1},{"s":"Apple","t":895,"v":-7.5},{"s":"Apple","t":915,"v":-7.9},{"s":"Apple","t":935,"v":-8.2},{"s":"Apple","t":955,"v":-8.5},{"s":"Apple","t":975,"v":-8.9},
{"s":"Peach (white)","t":0,"v":9.0},{"s":"Peach (white)","t":20,"v":8.0},{"s":"Peach (white)","t":40,"v":7.0},{"s":"Peach (white)","t":60,"v":6.0},{"s":"Peach (white)","t":80,"v":5.0},{"s":"Peach (white)","t":100,"v":4.2},{"s":"Peach (white)","t":120,"v":3.4},{"s":"Peach (white)","t":140,"v":2.7},{"s":"Peach (white)","t":160,"v":2.1},{"s":"Peach (white)","t":180,"v":1.5},{"s":"Peach (white)","t":200,"v":0.9},{"s":"Peach (white)","t":220,"v":0.4},{"s":"Peach (white)","t":240,"v":-0.1},{"s":"Peach (white)","t":260,"v":-0.6},{"s":"Peach (white)","t":280,"v":-1.1},{"s":"Peach (white)","t":300,"v":-1.5},{"s":"Peach (white)","t":320,"v":-1.9},{"s":"Peach (white)","t":340,"v":-2.3},{"s":"Peach (white)","t":360,"v":-2.7},{"s":"Peach (white)","t":380,"v":-3.0},{"s":"Peach (white)","t":398,"v":-3.3},{"s":"Peach (white)","t":401,"v":-1.3},{"s":"Peach (white)","t":420,"v":-1.2},{"s":"Peach (white)","t":440,"v":-1.3},{"s":"Peach (white)","t":460,"v":-1.3},{"s":"Peach (white)","t":480,"v":-1.4},{"s":"Peach (white)","t":500,"v":-1.5},{"s":"Peach (white)","t":520,"v":-1.6},{"s":"Peach (white)","t":540,"v":-1.7},{"s":"Peach (white)","t":560,"v":-1.9},{"s":"Peach (white)","t":580,"v":-2.1},{"s":"Peach (white)","t":600,"v":-2.3},{"s":"Peach (white)","t":620,"v":-2.5},{"s":"Peach (white)","t":640,"v":-2.8},{"s":"Peach (white)","t":660,"v":-3.1},{"s":"Peach (white)","t":680,"v":-3.5},{"s":"Peach (white)","t":700,"v":-3.9},{"s":"Peach (white)","t":720,"v":-4.4},{"s":"Peach (white)","t":740,"v":-4.9},{"s":"Peach (white)","t":760,"v":-5.4},{"s":"Peach (white)","t":780,"v":-5.9},{"s":"Peach (white)","t":800,"v":-6.4},{"s":"Peach (white)","t":820,"v":-6.9},{"s":"Peach (white)","t":840,"v":-7.4},{"s":"Peach (white)","t":860,"v":-7.8},{"s":"Peach (white)","t":880,"v":-8.2},{"s":"Peach (white)","t":900,"v":-8.6},{"s":"Peach (white)","t":920,"v":-9.0},{"s":"Peach (white)","t":940,"v":-9.4},{"s":"Peach (white)","t":960,"v":-9.7},{"s":"Peach (white)","t":980,"v":-10.0},{"s":"Peach (white)","t":1000,"v":-10.3},{"s":"Peach (white)","t":1020,"v":-10.6},{"s":"Peach (white)","t":1040,"v":-10.9},
{"s":"Peach (wellow)","t":0,"v":9.0},{"s":"Peach (wellow)","t":20,"v":8.6},{"s":"Peach (wellow)","t":40,"v":7.6},{"s":"Peach (wellow)","t":60,"v":6.6},{"s":"Peach (wellow)","t":80,"v":5.6},{"s":"Peach (wellow)","t":100,"v":4.7},{"s":"Peach (wellow)","t":120,"v":3.9},{"s":"Peach (wellow)","t":140,"v":3.1},{"s":"Peach (wellow)","t":160,"v":2.4},{"s":"Peach (wellow)","t":180,"v":1.8},{"s":"Peach (wellow)","t":200,"v":1.2},{"s":"Peach (wellow)","t":220,"v":0.6},{"s":"Peach (wellow)","t":240,"v":0.1},{"s":"Peach (wellow)","t":260,"v":-0.4},{"s":"Peach (wellow)","t":280,"v":-0.9},{"s":"Peach (wellow)","t":300,"v":-1.4},{"s":"Peach (wellow)","t":320,"v":-1.8},{"s":"Peach (wellow)","t":340,"v":-2.2},{"s":"Peach (wellow)","t":360,"v":-2.5},{"s":"Peach (wellow)","t":380,"v":-2.8},{"s":"Peach (wellow)","t":400,"v":-3.0},{"s":"Peach (wellow)","t":404,"v":-3.1},{"s":"Peach (wellow)","t":407,"v":-0.8},{"s":"Peach (wellow)","t":425,"v":-0.7},{"s":"Peach (wellow)","t":445,"v":-0.6},{"s":"Peach (wellow)","t":465,"v":-0.6},{"s":"Peach (wellow)","t":485,"v":-0.6},{"s":"Peach (wellow)","t":505,"v":-0.6},{"s":"Peach (wellow)","t":525,"v":-0.6},{"s":"Peach (wellow)","t":545,"v":-0.6},{"s":"Peach (wellow)","t":565,"v":-0.7},{"s":"Peach (wellow)","t":585,"v":-0.7},{"s":"Peach (wellow)","t":605,"v":-0.6},{"s":"Peach (wellow)","t":625,"v":-0.7},{"s":"Peach (wellow)","t":645,"v":-0.7},{"s":"Peach (wellow)","t":665,"v":-0.7},{"s":"Peach (wellow)","t":685,"v":-0.8},{"s":"Peach (wellow)","t":705,"v":-0.8},{"s":"Peach (wellow)","t":725,"v":-0.9},{"s":"Peach (wellow)","t":745,"v":-0.9},{"s":"Peach (wellow)","t":765,"v":-1.0},{"s":"Peach (wellow)","t":785,"v":-1.3},{"s":"Peach (wellow)","t":805,"v":-1.7},{"s":"Peach (wellow)","t":825,"v":-2.3},{"s":"Peach (wellow)","t":845,"v":-3.0},{"s":"Peach (wellow)","t":865,"v":-3.7},{"s":"Peach (wellow)","t":885,"v":-4.4},{"s":"Peach (wellow)","t":905,"v":-5.0},{"s":"Peach (wellow)","t":925,"v":-5.6},{"s":"Peach (wellow)","t":945,"v":-6.2},{"s":"Peach (wellow)","t":965,"v":-6.8},{"s":"Peach (wellow)","t":985,"v":-7.3},{"s":"Peach (wellow)","t":1005,"v":-7.8},{"s":"Peach (wellow)","t":1025,"v":-8.3},{"s":"Peach (wellow)","t":1045,"v":-8.7},{"s":"Peach (wellow)","t":1065,"v":-9.1},{"s":"Peach (wellow)","t":1085,"v":-9.5},{"s":"Peach (wellow)","t":1105,"v":-9.9},{"s":"Peach (wellow)","t":1125,"v":-10.2},{"s":"Peach (wellow)","t":1145,"v":-10.6},
{"s":"Pear","t":0,"v":9.0},{"s":"Pear","t":20,"v":7.9},{"s":"Pear","t":40,"v":6.8},{"s":"Pear","t":60,"v":5.6},{"s":"Pear","t":80,"v":4.6},{"s":"Pear","t":100,"v":3.8},{"s":"Pear","t":120,"v":3.1},{"s":"Pear","t":140,"v":2.5},{"s":"Pear","t":160,"v":2.0},{"s":"Pear","t":180,"v":1.5},{"s":"Pear","t":200,"v":1.1},{"s":"Pear","t":220,"v":0.7},{"s":"Pear","t":240,"v":0.3},{"s":"Pear","t":260,"v":-0.2},{"s":"Pear","t":280,"v":-0.7},{"s":"Pear","t":300,"v":-1.2},{"s":"Pear","t":320,"v":-1.7},{"s":"Pear","t":340,"v":-2.2},{"s":"Pear","t":360,"v":-2.7},{"s":"Pear","t":380,"v":-3.3},{"s":"Pear","t":395,"v":-3.8},{"s":"Pear","t":408,"v":-4.3},{"s":"Pear","t":411,"v":-1.7},{"s":"Pear","t":430,"v":-1.7},{"s":"Pear","t":450,"v":-1.7},{"s":"Pear","t":470,"v":-1.8},{"s":"Pear","t":490,"v":-1.8},{"s":"Pear","t":510,"v":-1.9},{"s":"Pear","t":530,"v":-2.0},{"s":"Pear","t":550,"v":-2.2},{"s":"Pear","t":570,"v":-2.4},{"s":"Pear","t":590,"v":-2.6},{"s":"Pear","t":610,"v":-2.8},{"s":"Pear","t":630,"v":-3.0},{"s":"Pear","t":650,"v":-3.3},{"s":"Pear","t":670,"v":-3.6},{"s":"Pear","t":690,"v":-3.9},{"s":"Pear","t":710,"v":-4.2},{"s":"Pear","t":730,"v":-4.6},{"s":"Pear","t":750,"v":-5.0},{"s":"Pear","t":770,"v":-5.5},{"s":"Pear","t":790,"v":-6.0},{"s":"Pear","t":810,"v":-6.5},{"s":"Pear","t":830,"v":-7.0},{"s":"Pear","t":850,"v":-7.5},{"s":"Pear","t":870,"v":-8.0},{"s":"Pear","t":890,"v":-8.4},{"s":"Pear","t":910,"v":-8.8},{"s":"Pear","t":930,"v":-9.2},{"s":"Pear","t":950,"v":-9.5},{"s":"Pear","t":970,"v":-9.8},{"s":"Pear","t":990,"v":-10.1},{"s":"Pear","t":1010,"v":-10.4},{"s":"Pear","t":1030,"v":-10.7},{"s":"Pear","t":1050,"v":-10.8},{"s":"Pear","t":1070,"v":-10.6},{"s":"Pear","t":1090,"v":-10.4},{"s":"Pear","t":1110,"v":-10.6},{"s":"Pear","t":1130,"v":-10.8},{"s":"Pear","t":1140,"v":-11.0},
{"s":"Netted melon","t":0,"v":9.0},{"s":"Netted melon","t":20,"v":8.9},{"s":"Netted melon","t":40,"v":8.2},{"s":"Netted melon","t":60,"v":7.4},{"s":"Netted melon","t":80,"v":6.5},{"s":"Netted melon","t":100,"v":5.6},{"s":"Netted melon","t":120,"v":4.7},{"s":"Netted melon","t":140,"v":4.0},{"s":"Netted melon","t":160,"v":3.3},{"s":"Netted melon","t":180,"v":2.7},{"s":"Netted melon","t":200,"v":2.1},{"s":"Netted melon","t":220,"v":1.6},{"s":"Netted melon","t":240,"v":1.0},{"s":"Netted melon","t":260,"v":0.6},{"s":"Netted melon","t":280,"v":0.1},{"s":"Netted melon","t":300,"v":-0.5},{"s":"Netted melon","t":320,"v":-1.1},{"s":"Netted melon","t":340,"v":-1.6},{"s":"Netted melon","t":360,"v":-2.0},{"s":"Netted melon","t":380,"v":-2.4},{"s":"Netted melon","t":400,"v":-2.8},{"s":"Netted melon","t":412,"v":-3.0},{"s":"Netted melon","t":415,"v":-1.2},{"s":"Netted melon","t":435,"v":-1.2},{"s":"Netted melon","t":455,"v":-1.2},{"s":"Netted melon","t":475,"v":-1.3},{"s":"Netted melon","t":495,"v":-1.3},{"s":"Netted melon","t":515,"v":-1.4},{"s":"Netted melon","t":535,"v":-1.4},{"s":"Netted melon","t":555,"v":-1.5},{"s":"Netted melon","t":575,"v":-1.5},{"s":"Netted melon","t":595,"v":-1.6},{"s":"Netted melon","t":615,"v":-1.7},{"s":"Netted melon","t":635,"v":-1.8},{"s":"Netted melon","t":655,"v":-1.9},{"s":"Netted melon","t":675,"v":-2.0},{"s":"Netted melon","t":695,"v":-2.2},{"s":"Netted melon","t":715,"v":-2.3},{"s":"Netted melon","t":735,"v":-2.5},{"s":"Netted melon","t":755,"v":-2.7},{"s":"Netted melon","t":775,"v":-2.9},{"s":"Netted melon","t":795,"v":-3.2},{"s":"Netted melon","t":815,"v":-3.4},{"s":"Netted melon","t":835,"v":-3.7},{"s":"Netted melon","t":855,"v":-4.0},{"s":"Netted melon","t":875,"v":-4.3},{"s":"Netted melon","t":895,"v":-4.6},{"s":"Netted melon","t":915,"v":-4.8},{"s":"Netted melon","t":935,"v":-5.1},{"s":"Netted melon","t":955,"v":-5.4},{"s":"Netted melon","t":975,"v":-5.7},{"s":"Netted melon","t":995,"v":-6.0},{"s":"Netted melon","t":1015,"v":-6.3},{"s":"Netted melon","t":1035,"v":-6.6},{"s":"Netted melon","t":1055,"v":-6.8},{"s":"Netted melon","t":1075,"v":-7.1},{"s":"Netted melon","t":1095,"v":-7.3},{"s":"Netted melon","t":1115,"v":-7.6},{"s":"Netted melon","t":1135,"v":-7.9},{"s":"Netted melon","t":1155,"v":-8.1},{"s":"Netted melon","t":1175,"v":-8.4},{"s":"Netted melon","t":1195,"v":-8.6},{"s":"Netted melon","t":1215,"v":-8.9},{"s":"Netted melon","t":1235,"v":-9.1},{"s":"Netted melon","t":1255,"v":-9.3},{"s":"Netted melon","t":1275,"v":-9.5},{"s":"Netted melon","t":1295,"v":-9.8},{"s":"Netted melon","t":1315,"v":-10.0}
]
},
"columns": 2,
"bounds": "flush",
"spacing": {"row": 42, "column": 54},
"resolve": {"scale": {"x": "independent", "y": "independent", "shape": "independent", "fill": "independent", "stroke": "independent"}, "legend": {"shape": "independent", "fill": "independent", "stroke": "independent"}},
"concat": [
{
 "title": "A", "width": 264, "height": 189, "data": {"name": "A"},
 "encoding": {
  "x": {"field": "t", "type": "quantitative", "scale": {"domain": [-13, 552], "nice": false, "zero": false}, "axis": {"values": [0,100,200,300,400,500], "title": "Cooling time (sec)"}},
  "y": {"field": "v", "type": "quantitative", "scale": {"domain": [-12, 10], "nice": false, "zero": false}, "axis": {"values": [-10,-5,0,5,10], "title": "Temperature (°C)"}}
 },
 "layer": [
  {"mark": {"type": "line", "color": "#111", "strokeWidth": 0.7}, "encoding": {"detail": {"field": "s", "type": "nominal"}}},
  {"mark": {"type": "point", "filled": true, "size": 32, "strokeWidth": 0.8, "opacity": 1},
   "encoding": {
    "shape": {"field": "s", "type": "nominal", "scale": {"domain": ["Garlic (Southern)","Garlic (Northern)","Leek","Cucumber","Grape"], "range": ["circle","triangle-down","square","diamond","triangle-up"]}, "legend": {"title": null}},
    "fill": {"field": "s", "type": "nominal", "scale": {"domain": ["Garlic (Southern)","Garlic (Northern)","Leek","Cucumber","Grape"], "range": ["#000000","#f4f4f4","#5a5a5a","#e4e4e4","#2a2a2a"]}, "legend": {"title": null}},
    "stroke": {"field": "s", "type": "nominal", "scale": {"domain": ["Garlic (Southern)","Garlic (Northern)","Leek","Cucumber","Grape"], "range": ["#000000","#444444","#333333","#999999","#111111"]}, "legend": {"title": null}}
   }}
 ]
},
{
 "title": "B", "width": 264, "height": 189, "data": {"name": "B"},
 "encoding": {
  "x": {"field": "t", "type": "quantitative", "scale": {"domain": [-12, 855], "nice": false, "zero": false}, "axis": {"values": [0,200,400,600,800], "title": "Cooling time (sec)"}},
  "y": {"field": "v", "type": "quantitative", "scale": {"domain": [-12, 10], "nice": false, "zero": false}, "axis": {"values": [-10,-5,0,5,10], "title": "Temperature (°C)"}}
 },
 "layer": [
  {"mark": {"type": "line", "color": "#111", "strokeWidth": 0.7}, "encoding": {"detail": {"field": "s", "type": "nominal"}}},
  {"mark": {"type": "point", "filled": true, "size": 32, "strokeWidth": 0.8, "opacity": 1},
   "encoding": {
    "shape": {"field": "s", "type": "nominal", "scale": {"domain": ["Strawberry","Hot pepper","Cherry tomato","Plum","Oriental melon"], "range": ["circle","triangle-down","square","diamond","triangle-up"]}, "legend": {"title": null}},
    "fill": {"field": "s", "type": "nominal", "scale": {"domain": ["Strawberry","Hot pepper","Cherry tomato","Plum","Oriental melon"], "range": ["#000000","#f4f4f4","#5a5a5a","#e4e4e4","#2a2a2a"]}, "legend": {"title": null}},
    "stroke": {"field": "s", "type": "nominal", "scale": {"domain": ["Strawberry","Hot pepper","Cherry tomato","Plum","Oriental melon"], "range": ["#000000","#444444","#333333","#999999","#111111"]}, "legend": {"title": null}}
   }}
 ]
},
{
 "title": "C", "width": 264, "height": 189, "data": {"name": "C"},
 "encoding": {
  "x": {"field": "t", "type": "quantitative", "scale": {"domain": [-10, 1010], "nice": false, "zero": false}, "axis": {"values": [0,200,400,600,800,1000], "title": "Cooling time (sec)"}},
  "y": {"field": "v", "type": "quantitative", "scale": {"domain": [-12, 10], "nice": false, "zero": false}, "axis": {"values": [-10,-5,0,5,10], "title": "Temperature (°C)"}}
 },
 "layer": [
  {"mark": {"type": "line", "color": "#111", "strokeWidth": 0.7}, "encoding": {"detail": {"field": "s", "type": "nominal"}}},
  {"mark": {"type": "point", "filled": true, "size": 32, "strokeWidth": 0.8, "opacity": 1},
   "encoding": {
    "shape": {"field": "s", "type": "nominal", "scale": {"domain": ["Sweet potato (chestnuts)","Sweet potato (pumkin)","Mandarin (citrus)","Sweet persimon","Daikon"], "range": ["circle","triangle-down","square","diamond","triangle-up"]}, "legend": {"title": null}},
    "fill": {"field": "s", "type": "nominal", "scale": {"domain": ["Sweet potato (chestnuts)","Sweet potato (pumkin)","Mandarin (citrus)","Sweet persimon","Daikon"], "range": ["#000000","#f4f4f4","#5a5a5a","#e4e4e4","#2a2a2a"]}, "legend": {"title": null}},
    "stroke": {"field": "s", "type": "nominal", "scale": {"domain": ["Sweet potato (chestnuts)","Sweet potato (pumkin)","Mandarin (citrus)","Sweet persimon","Daikon"], "range": ["#000000","#444444","#333333","#999999","#111111"]}, "legend": {"title": null}}
   }}
 ]
},
{
 "title": "D", "width": 264, "height": 189, "data": {"name": "D"},
 "encoding": {
  "x": {"field": "t", "type": "quantitative", "scale": {"domain": [-8, 1400], "nice": false, "zero": false}, "axis": {"values": [0,200,400,600,800,1000,1200,1400], "title": "Cooling time (sec)"}},
  "y": {"field": "v", "type": "quantitative", "scale": {"domain": [-12, 10], "nice": false, "zero": false}, "axis": {"values": [-10,-5,0,5,10], "title": "Temperature (°C)"}}
 },
 "layer": [
  {"mark": {"type": "line", "color": "#111", "strokeWidth": 0.7}, "encoding": {"detail": {"field": "s", "type": "nominal"}}},
  {"mark": {"type": "point", "filled": true, "size": 32, "strokeWidth": 0.8, "opacity": 1},
   "encoding": {
    "shape": {"field": "s", "type": "nominal", "scale": {"domain": ["Apple","Peach (white)","Peach (wellow)","Pear","Netted melon"], "range": ["circle","triangle-down","square","diamond","triangle-up"]}, "legend": {"title": null}},
    "fill": {"field": "s", "type": "nominal", "scale": {"domain": ["Apple","Peach (white)","Peach (wellow)","Pear","Netted melon"], "range": ["#000000","#f4f4f4","#5a5a5a","#e4e4e4","#2a2a2a"]}, "legend": {"title": null}},
    "stroke": {"field": "s", "type": "nominal", "scale": {"domain": ["Apple","Peach (white)","Peach (wellow)","Pear","Netted melon"], "range": ["#000000","#444444","#333333","#999999","#111111"]}, "legend": {"title": null}}
   }}
 ]
}
]
}
